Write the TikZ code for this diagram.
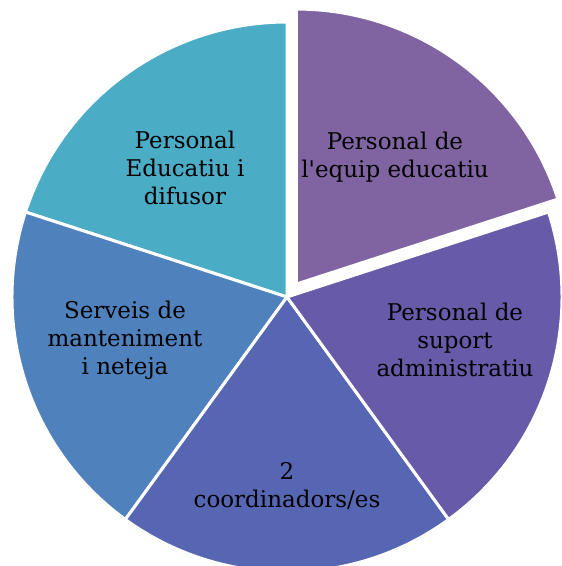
\documentclass[tikz,border=0pt]{standalone}
\usepackage{fontspec}
\setmainfont{DejaVu Serif}[Ligatures=TeXOff]
\usetikzlibrary{calc}
\definecolor{cteal}{HTML}{4BACC6}
\definecolor{cleft}{HTML}{4F81BD}
\definecolor{cbottom}{HTML}{5766B2}
\definecolor{cright}{HTML}{675AA8}
\definecolor{cpurple}{HTML}{8064A2}
\begin{document}
\begin{tikzpicture}[x=1pt,y=1pt,
  slice/.style={draw=white, line width=3pt, line join=round},
  lbl/.style={align=center, font=\fontsize{23}{28}\selectfont, text=black, inner sep=0pt}]
\useasboundingbox (0,0) rectangle (562,566);
\coordinate (c) at (287,269);
\coordinate (ce) at ($(c)+(54:16)$);
\path[slice, fill=cteal] (c) -- ++(90:275) arc[start angle=90, end angle=162, radius=275] -- cycle;
\path[slice, fill=cleft] (c) -- ++(162:275) arc[start angle=162, end angle=234, radius=275] -- cycle;
\path[slice, fill=cbottom] (c) -- ++(234:275) arc[start angle=234, end angle=306, radius=275] -- cycle;
\path[slice, fill=cright] (c) -- ++(306:275) arc[start angle=306, end angle=378, radius=275] -- cycle;
\path[slice, fill=cpurple] (ce) -- ++(18:275) arc[start angle=18, end angle=90, radius=275] -- cycle;
\node[lbl] (tl) at (185,398) {Personal\\Educatiu i\\difusor};
\node[lbl] (tr) at (395,409) {Personal de\\l'equip educatiu};
\node[lbl] (rt) at (455,226) {Personal de\\suport\\administratiu};
\node[lbl] (bt) at (287,80) {2\\coordinadors/es};
\node[lbl] (lf) at (125,226) {Serveis de\\manteniment\\i neteja};
\end{tikzpicture}
\end{document}
